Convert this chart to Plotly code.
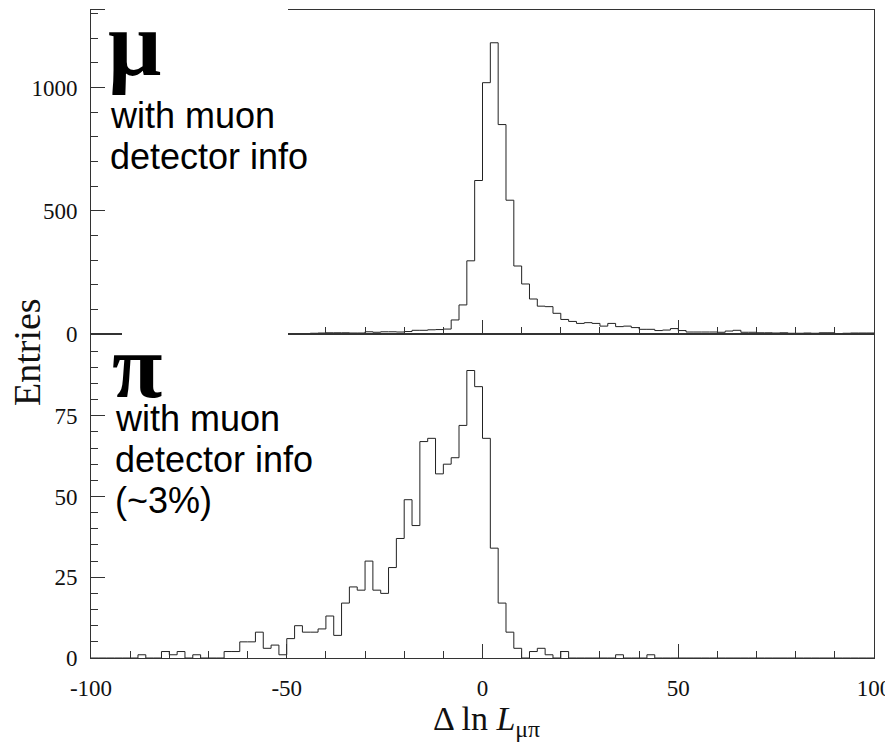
import plotly.graph_objects as go
from plotly.subplots import make_subplots

# Histogram binning: 100 bins of width 2 over [-100, 100]
bin_edges = list(range(-100, 101, 2))

# Delta ln L(mu/pi) for true muons with muon-detector info
muon_counts = [
    0, 0, 0, 0, 1, 0, 1, 1, 0, 1,
    1, 2, 1, 1, 2, 1, 2, 1, 2, 2,
    1, 2, 3, 2, 2, 1, 2, 2, 3, 4,
    5, 5, 5, 4, 4, 9, 7, 9, 9, 8,
    10, 15, 15, 17, 18, 20, 57, 118, 297, 623,
    1020, 1182, 850, 543, 276, 203, 142, 113, 111, 84,
    59, 51, 43, 46, 43, 32, 43, 30, 32, 26,
    19, 19, 14, 16, 22, 14, 8, 8, 8, 8,
    7, 12, 15, 7, 7, 5, 5, 4, 5, 3,
    3, 4, 3, 5, 5, 2, 3, 4, 4, 4,
]

# Delta ln L(mu/pi) for true pions with muon-detector info
pion_counts = [
    0, 0, 0, 0, 0, 0, 1, 0, 0, 2,
    1, 2, 0, 1, 0, 0, 0, 2, 2, 5,
    5, 8, 3, 4, 1, 6, 10, 8, 8, 9,
    13, 7, 17, 22, 21, 30, 21, 20, 28, 37,
    49, 41, 67, 68, 57, 60, 62, 72, 89, 84,
    68, 34, 17, 8, 3, 0, 2, 3, 1, 0,
    2, 0, 0, 0, 0, 0, 0, 1, 0, 0,
    0, 1, 0, 0, 0, 0, 0, 0, 0, 0,
    0, 0, 0, 0, 0, 0, 0, 0, 0, 0,
    0, 0, 0, 0, 0, 0, 0, 0, 0, 0,
]

x_tickvals = [-100, -50, 0, 50, 100]
x_ticktext = ["-100", "-50", "0", "50", "100"]
muon_tickvals = [0, 500, 1000]
pion_tickvals = [0, 25, 50, 75]

W, H = 885, 743
ML, MR, MT, MB = 91, 11, 10, 85
PW, PH = W - ML - MR, H - MT - MB


def px_x(p):
    return (p - ML) / PW


def px_y(p):
    return (H - MB - p) / PH


fig = make_subplots(rows=2, cols=1, shared_xaxes=True, vertical_spacing=0)

line_style = dict(color="#222222", width=1, shape="hv")
fig.add_trace(go.Scatter(x=bin_edges, y=muon_counts + [muon_counts[-1]],
                         mode="lines", line=line_style, hoverinfo="skip"),
              row=1, col=1)
fig.add_trace(go.Scatter(x=bin_edges, y=pion_counts + [pion_counts[-1]],
                         mode="lines", line=line_style, hoverinfo="skip"),
              row=2, col=1)

axis_base = dict(showline=True, linecolor="#333333", linewidth=1, mirror=True,
                 ticks="inside", ticklen=14, tickwidth=1, tickcolor="#333333",
                 showgrid=False, zeroline=False, automargin=False,
                 tickfont=dict(family="Liberation Serif", size=23, color="#111111"))

x_minor = dict(ticks="inside", ticklen=7, tickwidth=1, tickcolor="#333333",
               tick0=0, dtick=10, showgrid=False)

fig.update_xaxes(**axis_base, range=[-100, 100], tickmode="array",
                 tickvals=x_tickvals, ticktext=x_ticktext, minor=x_minor,
                 ticklabeloverflow="allow")
fig.update_xaxes(showticklabels=False, row=1, col=1)
fig.update_xaxes(showticklabels=True, ticklabelstandoff=9, row=2, col=1)

fig.update_yaxes(**axis_base, range=[0, 1315], tickmode="array",
                 tickvals=muon_tickvals, ticklabelstandoff=8,
                 minor=dict(ticks="inside", ticklen=7, tickwidth=1,
                            tickcolor="#333333", tick0=0, dtick=100, showgrid=False),
                 row=1, col=1)
fig.update_yaxes(**axis_base, range=[0, 100.3], tickmode="array",
                 tickvals=pion_tickvals, ticklabelstandoff=8,
                 minor=dict(ticks="inside", ticklen=7, tickwidth=1,
                            tickcolor="#333333", tick0=0, dtick=5, showgrid=False),
                 row=2, col=1)

# White label panels over the upper-left corner
shapes = [
    dict(type="rect", xref="paper", yref="paper",
         x0=px_x(105), x1=px_x(288), y0=px_y(200), y1=px_y(0),
         fillcolor="white", line=dict(width=0), layer="above"),
    dict(type="rect", xref="paper", yref="paper",
         x0=px_x(122), x1=px_x(288), y0=px_y(336), y1=px_y(200),
         fillcolor="white", line=dict(width=0), layer="above"),
]

sans = "Liberation Sans"
serif = "Liberation Serif"


def label(text, x, y, size, family=sans, bold=False):
    return dict(text=f"<b>{text}</b>" if bold else text,
                xref="paper", yref="paper", x=px_x(x), y=px_y(y),
                xanchor="left", yanchor="middle", showarrow=False,
                font=dict(family=family, size=size, color="black"))


annotations = [
    label("μ", 106, 43, 94, serif, True),
    label("with muon", 108, 116, 36),
    label("detector info", 108, 156, 36),
    label("π", 110, 366, 92, serif, True),
    label("with muon", 113, 418, 36),
    label("detector info", 113, 459, 36),
    label("(~3%)", 113, 500, 36),
    dict(text="Entries", xref="paper", yref="paper", x=px_x(27), y=px_y(352),
         xanchor="center", yanchor="middle", textangle=-90, showarrow=False,
         font=dict(family=serif, size=38, color="#111111")),
    dict(text="Δ ln <i>L</i><sub>μπ</sub>", xref="paper", yref="paper",
         x=px_x(486), y=px_y(721), xanchor="center", yanchor="middle",
         showarrow=False, font=dict(family=serif, size=34, color="#111111")),
]

fig.update_layout(width=W, height=H, margin=dict(l=ML, r=MR, t=MT, b=MB,
                                                 autoexpand=False),
                  paper_bgcolor="white", plot_bgcolor="white",
                  showlegend=False, shapes=shapes, annotations=annotations)

fig.write_html("out.html")
